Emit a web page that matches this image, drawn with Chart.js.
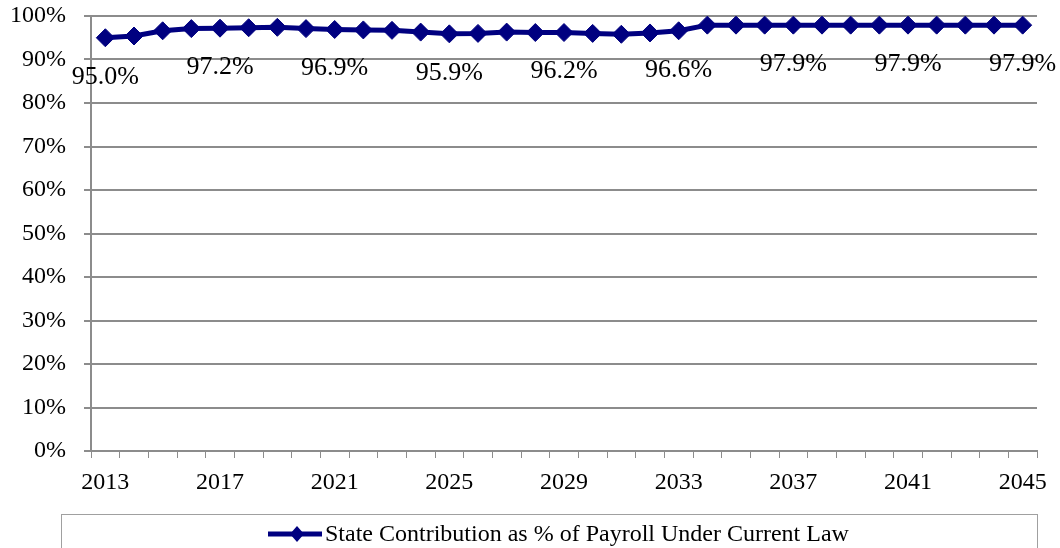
<!DOCTYPE html>
<html>
<head>
<meta charset="utf-8">
<script src="https://cdn.jsdelivr.net/npm/chart.js@4"></script>
<style>
  html, body { margin: 0; padding: 0; background: #fff; }
  #wrap { position: relative; width: 1060px; height: 548px; }
</style>
</head>
<body>
<div id="wrap"><canvas id="chart" width="1060" height="548"></canvas></div>
<script>
// --- data ---
const years = [];
for (let y = 2013; y <= 2045; y++) years.push(String(y));
const contribPct = [
  95.0, 95.4, 96.6, 97.1, 97.2, 97.3, 97.4, 97.1, 96.9, 96.8,
  96.7, 96.3, 95.9, 96.0, 96.3, 96.2, 96.2, 96.0, 95.8, 96.1,
  96.6, 97.9, 97.9, 97.9, 97.9, 97.9, 97.9, 97.9, 97.9, 97.9,
  97.9, 97.9, 97.9
];
const seriesName = 'State Contribution as % of Payroll Under Current Law';
const yTicks = [0, 10, 20, 30, 40, 50, 60, 70, 80, 90, 100];

const navy = '#000080';
const gridGray = '#8c8c8c';
const serif = '"Liberation Serif", "Times New Roman", serif';

// labels under every 4th point
const valueLabels = {
  id: 'valueLabels',
  afterDatasetsDraw(chart) {
    const ctx = chart.ctx;
    const meta = chart.getDatasetMeta(0);
    ctx.save();
    ctx.font = '26px ' + serif;
    ctx.fillStyle = '#000';
    ctx.textAlign = 'center';
    ctx.textBaseline = 'middle';
    meta.data.forEach((pt, i) => {
      if (i % 4 !== 0) return;
      ctx.fillText(contribPct[i].toFixed(1) + '%', pt.x, pt.y + 39);
    });
    ctx.restore();
  }
};

// boxed legend at the bottom
const boxLegend = {
  id: 'boxLegend',
  afterDraw(chart) {
    const ctx = chart.ctx;
    const ds = chart.data.datasets[0];
    ctx.save();
    ctx.strokeStyle = '#a0a0a0';
    ctx.lineWidth = 1;
    ctx.strokeRect(61.5, 514.5, 976, 60);
    const ly = 534;
    ctx.strokeStyle = ds.borderColor;
    ctx.lineWidth = 5;
    ctx.beginPath();
    ctx.moveTo(268, ly);
    ctx.lineTo(322, ly);
    ctx.stroke();
    ctx.fillStyle = ds.borderColor;
    ctx.beginPath();
    ctx.moveTo(297, ly - 8);
    ctx.lineTo(304, ly);
    ctx.lineTo(297, ly + 8);
    ctx.lineTo(290, ly);
    ctx.closePath();
    ctx.fill();
    ctx.fillStyle = '#000';
    ctx.font = '24px ' + serif;
    ctx.textBaseline = 'middle';
    ctx.fillText(ds.label, 325, ly + 1);
    ctx.restore();
  }
};

new Chart(document.getElementById('chart'), {
  type: 'line',
  data: {
    labels: years,
    datasets: [{
      label: seriesName,
      data: contribPct,
      borderColor: navy,
      backgroundColor: navy,
      borderWidth: 5,
      pointStyle: 'rectRot',
      pointRadius: 9,
      pointBackgroundColor: navy,
      pointBorderColor: navy,
      pointBorderWidth: 1,
      tension: 0
    }]
  },
  options: {
    responsive: false,
    animation: false,
    layout: { padding: { top: 16, right: 23, bottom: 0, left: 0 } },
    plugins: { legend: { display: false }, tooltip: { enabled: false } },
    scales: {
      x: {
        offset: true,
        grid: { offset: true, drawOnChartArea: false, drawTicks: true, tickLength: 7, color: gridGray },
        border: { color: gridGray, width: 2 },
        ticks: {
          autoSkip: false,
          maxRotation: 0,
          padding: 10,
          color: '#000',
          font: { family: serif, size: 24 },
          callback: (v, i) => (i % 4 === 0 ? years[i] : '')
        },
        afterFit: (s) => { s.height = 97; }
      },
      y: {
        min: 0,
        max: 100,
        afterBuildTicks: (s) => { s.ticks = yTicks.map(v => ({ value: v })); },
        grid: { color: gridGray, lineWidth: 2, tickLength: 7 },
        border: { color: gridGray, width: 2 },
        ticks: {
          padding: 18,
          color: '#000',
          font: { family: serif, size: 24 },
          callback: (v) => v + '%'
        },
        afterFit: (s) => { s.width = 91; s.paddingTop = 0; s.paddingBottom = 0; }
      }
    }
  },
  plugins: [valueLabels, boxLegend]
});
</script>
</body>
</html>
